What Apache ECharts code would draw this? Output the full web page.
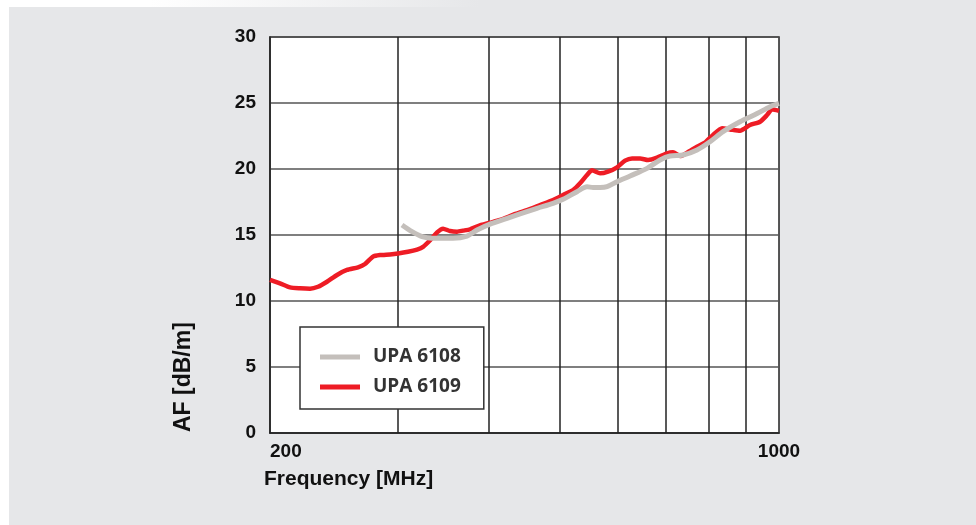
<!DOCTYPE html>
<html>
<head>
<meta charset="utf-8">
<script src="https://cdn.jsdelivr.net/npm/echarts@6/dist/echarts.min.js"></script>
<style>
html,body{margin:0;padding:0;background:#fff;}
#main{width:976px;height:525px;
background:
 linear-gradient(to right,#ffffff 0px,#ffffff 150px,#e6e7e9 480px) top left/100% 7px no-repeat,
 linear-gradient(#ffffff,#ffffff) top left/9px 100% no-repeat,
 #e6e7e9;}
</style>
</head>
<body>
<div id="main"></div>
<script>
// Frequencies (MHz) and antenna factor (dB/m)
var redFreq = [200,206.4,213.1,219.9,227,232.8,239.5,247.2,255.1,264.2,270.1,277,283.2,292.3,299.8,309.4,318.4,324.5,331.8,339.2,345.7,353.4,361.3,368.2,376.5,386.1,401,413.9,431.2,450.8,469.7,489.4,505.2,521.4,533.1,545,553.7,567.9,582.4,599.3,614.6,628.4,644.5,660.9,680,701.9,715.3,731.3,747.7,771.7,791.5,811.8,835.2,856.6,884.1,912.5,941.9,963,978.3,1000];
var redAF = [11.6,11.34,11.03,10.96,10.93,11.08,11.46,11.97,12.35,12.55,12.8,13.36,13.48,13.53,13.6,13.73,13.9,14.1,14.6,15.2,15.48,15.3,15.25,15.33,15.43,15.68,15.93,16.14,16.52,16.89,17.27,17.65,18.03,18.41,18.92,19.55,19.9,19.67,19.8,20.13,20.63,20.8,20.8,20.68,20.86,21.19,21.26,20.98,21.23,21.69,22.0,22.58,23.08,23.0,22.9,23.33,23.58,24.09,24.52,24.4];
var grayFreq = [303.6,313.4,323.5,333.9,347.9,356.8,372.9,384.9,401,423.2,440.9,465.2,489.4,505.2,528,545,555.5,567.9,580.6,599.3,624.4,658.9,686.5,708.6,738.3,771.7,804.1,837.8,884.1,933,972.2,1000];
var grayAF = [15.76,15.25,14.87,14.75,14.75,14.75,14.92,15.38,15.83,16.26,16.6,17.02,17.4,17.7,18.28,18.65,18.6,18.6,18.66,19.04,19.47,20.05,20.68,20.98,21.06,21.44,22.07,22.83,23.58,24.2,24.72,24.97];
var xGridValues = [300,400,500,600,700,800,900];
var xLabelValues = [200,1000];
var seriesNames = ['UPA 6108','UPA 6109'];
var xTitle = 'Frequency [MHz]';
var yTitle = 'AF [dB/m]';

function pairs(xs, ys){ var out=[]; for(var i=0;i<xs.length;i++){ out.push([xs[i], ys[i]]); } return out; }

var chart = echarts.init(document.getElementById('main'), null, {renderer:'canvas'});
var labelFont = {fontFamily:'Liberation Sans', fontWeight:'bold', fontSize:19, color:'#111'};
chart.setOption({
  backgroundColor:'transparent',
  animation:false,
  grid:{left:270, right:197, top:37, bottom:92, show:true, backgroundColor:'#ffffff', borderColor:'#222', borderWidth:1.5},
  xAxis:{
    type:'log', logBase:10, min:200, max:1000,
    axisLine:{show:true, lineStyle:{color:'#222', width:1.5}},
    axisTick:{show:false, customValues:xGridValues},
    splitLine:{show:true, lineStyle:{color:'#222', width:1.5}},
    axisLabel:Object.assign({customValues:xLabelValues, margin:9, alignMinLabel:'left', formatter:function(v){return String(Math.round(v));}}, labelFont)
  },
  yAxis:{
    type:'value', min:0, max:30, interval:5,
    axisLine:{show:true, lineStyle:{color:'#222', width:1.5}},
    axisTick:{show:false},
    splitLine:{show:true, lineStyle:{color:'#555', width:1.5}},
    axisLabel:Object.assign({margin:14}, labelFont)
  },
  legend:{
    orient:'vertical', left:300, top:327,
    data:seriesNames,
    icon:'rect', itemWidth:40, itemHeight:5, itemGap:8,
    padding:[19,23,11,20],
    backgroundColor:'#ffffff', borderColor:'#333', borderWidth:1.5,
    textStyle:{fontFamily:'Open Sans', fontWeight:'bold', fontSize:19, color:'#333', lineHeight:22, padding:[0,0,0,8]}
  },
  graphic:[
    {type:'text', left:264, top:469, style:{text:xTitle, font:'bold 21px "Liberation Sans"', fill:'#111'}},
    {type:'text', x:172, y:432, rotation:Math.PI/2, style:{text:yTitle, font:'bold 23px "Liberation Sans"', fill:'#111', textAlign:'left', textVerticalAlign:'top'}}
  ],
  series:[
    {name:seriesNames[1], type:'line', data:pairs(redFreq, redAF), showSymbol:false, smooth:0.2,
     lineStyle:{color:'#ee1c25', width:4.5}, itemStyle:{color:'#ee1c25'}, z:2},
    {name:seriesNames[0], type:'line', data:pairs(grayFreq, grayAF), showSymbol:false, smooth:0.3,
     lineStyle:{color:'#c4bfbb', width:5}, itemStyle:{color:'#c4bfbb'}, z:3}
  ]
});
</script>
</body>
</html>
